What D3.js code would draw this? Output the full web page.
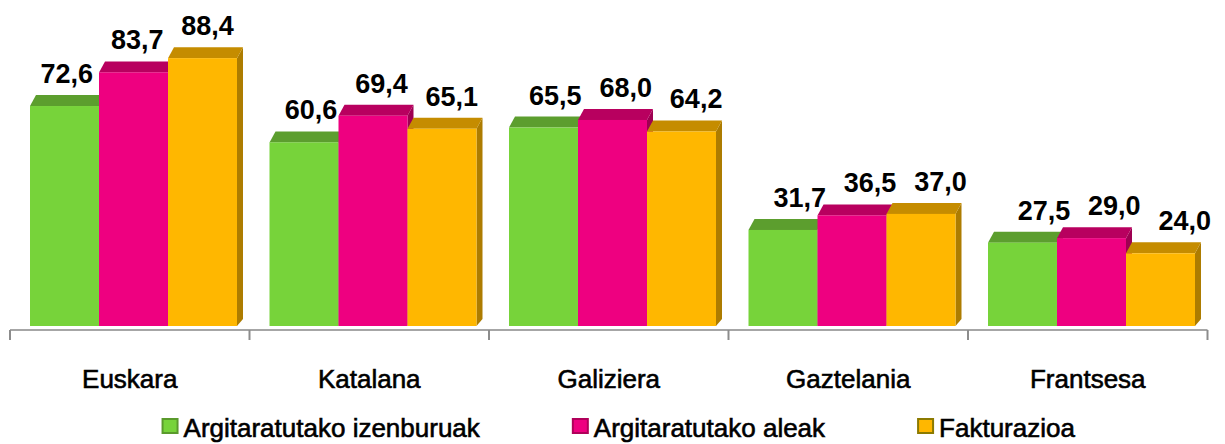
<!DOCTYPE html>
<html>
<head>
<meta charset="utf-8">
<script src="https://cdn.jsdelivr.net/npm/d3@7"></script>
<style>
  body { margin: 0; background: #fff; }
  text { font-family: "Liberation Sans", Arial, sans-serif; fill: #000; }
</style>
</head>
<body>
<svg class="chart"></svg>
<script>
// data
var categories = ["Euskara", "Katalana", "Galiziera", "Gaztelania", "Frantsesa"];
var seriesNames = ["Argitaratutako izenburuak", "Argitaratutako aleak", "Fakturazioa"];
var izenburuak = [72.6, 60.6, 65.5, 31.7, 27.5];
var aleak = [83.7, 69.4, 68.0, 36.5, 29.0];
var fakturazioa = [88.4, 65.1, 64.2, 37.0, 24.0];

(function show() {
    'use strict';

    var width = 1225, height = 444;
    var baseY = 326, axisY = 330;
    var depthX = 6, depthY = 11;

    // front / top / side colours per series
    var colors = [
        {front: "#77d33a", top: "#5c9e2e", side: "#4c8826", edge: "#5a9a2c"},
        {front: "#ee0080", top: "#b8005f", side: "#9e0052", edge: "#b0005a"},
        {front: "#ffb700", top: "#c58c00", side: "#ad7c00", edge: "#8c7a00"}
    ];

    var values = [izenburuak, aleak, fakturazioa];

    var svg = d3.select(".chart")
        .attr("width", width)
        .attr("height", height);

    var x = d3.scaleBand().domain(categories).range([10, 1207.5]);
    var x1 = d3.scaleBand().domain(d3.range(seriesNames.length)).range([20, 20 + 207]);
    var y = d3.scaleLinear().domain([0, 100]).range([baseY, baseY - 303]);

    // flatten bars, drawn left to right so later fronts cover earlier sides
    var bars = [];
    categories.forEach(function(c, ci) {
        values.forEach(function(vals, si) {
            bars.push({cat: c, s: si, v: vals[ci]});
        });
    });

    var g = svg.selectAll(".bar").data(bars).enter().append("g").attr("class", "bar");

    function bx(d) { return x(d.cat) + x1(d.s); }
    var bw = x1.bandwidth();

    // side face
    g.append("path")
        .attr("fill", function(d) { return colors[d.s].side; })
        .attr("d", function(d) {
            var x0 = bx(d) + bw, t = y(d.v);
            return "M" + x0 + "," + t + "L" + (x0 + depthX) + "," + (t - depthY)
                + "L" + (x0 + depthX) + "," + (baseY - depthY + 4)
                + "L" + x0 + "," + baseY + "Z";
        });

    // top face
    g.append("path")
        .attr("fill", function(d) { return colors[d.s].top; })
        .attr("d", function(d) {
            var x0 = bx(d), t = y(d.v);
            return "M" + x0 + "," + t + "L" + (x0 + depthX) + "," + (t - depthY)
                + "L" + (x0 + bw + depthX) + "," + (t - depthY)
                + "L" + (x0 + bw) + "," + t + "Z";
        });

    // front face
    g.append("rect")
        .attr("x", bx)
        .attr("y", function(d) { return y(d.v); })
        .attr("width", bw)
        .attr("height", function(d) { return baseY - y(d.v); })
        .attr("fill", function(d) { return colors[d.s].front; });

    // value labels (shifted a bit to the right, like the perspective in the original)
    g.append("text")
        .attr("x", function(d) { var cx = bx(d) + bw / 2; return cx + 1 + cx * 0.02; })
        .attr("y", function(d) { return y(d.v) - 23; })
        .attr("text-anchor", "middle")
        .style("font-size", "27px")
        .style("font-weight", "bold")
        .text(function(d) { return d3.format(".1f")(d.v).replace(".", ","); });

    // axis line and ticks at category boundaries
    svg.append("line")
        .attr("x1", x.range()[0]).attr("x2", x.range()[1])
        .attr("y1", axisY).attr("y2", axisY)
        .attr("stroke", "#a6a6a6").attr("stroke-width", 2);

    var edges = categories.map(function(c) { return x(c); }).concat([x.range()[1]]);
    svg.selectAll(".tick-edge").data(edges).enter().append("line")
        .attr("class", "tick-edge")
        .attr("x1", function(d) { return d; }).attr("x2", function(d) { return d; })
        .attr("y1", axisY).attr("y2", axisY + 10)
        .attr("stroke", "#8c8c8c").attr("stroke-width", 2);

    // category labels via axis
    var axis = svg.append("g")
        .attr("transform", "translate(0," + 388 + ")")
        .call(d3.axisBottom(x).tickSize(0).tickPadding(0));
    axis.select(".domain").remove();
    axis.selectAll("text")
        .attr("y", 0).attr("dy", 0)
        .style("font-size", "26px")
        .style("font-family", "'Liberation Sans', Arial, sans-serif")
        .attr("fill", "#000")
        .attr("stroke", "#000").attr("stroke-width", 0.6);

    // legend
    var legend = svg.append("g").attr("class", "legend");
    var items = legend.selectAll("g").data(seriesNames).enter().append("g");
    items.append("rect")
        .attr("x", 1).attr("y", 419)
        .attr("width", 15).attr("height", 14)
        .attr("fill", function(d, i) { return colors[i].front; })
        .attr("stroke", function(d, i) { return colors[i].edge; })
        .attr("stroke-width", 2);
    items.append("text")
        .attr("x", 22).attr("y", 437)
        .style("font-size", "26px")
        .attr("stroke", "#000").attr("stroke-width", 0.6)
        .text(function(d) { return d; });

    var pos = 0, gap = 92, offsets = [];
    items.each(function() {
        offsets.push(pos);
        pos += this.getBBox().width + gap;
    });
    var total = pos - gap;
    var start = 618 - total / 2;
    items.attr("transform", function(d, i) { return "translate(" + (start + offsets[i]) + ",0)"; });
})();
</script>
</body>
</html>
